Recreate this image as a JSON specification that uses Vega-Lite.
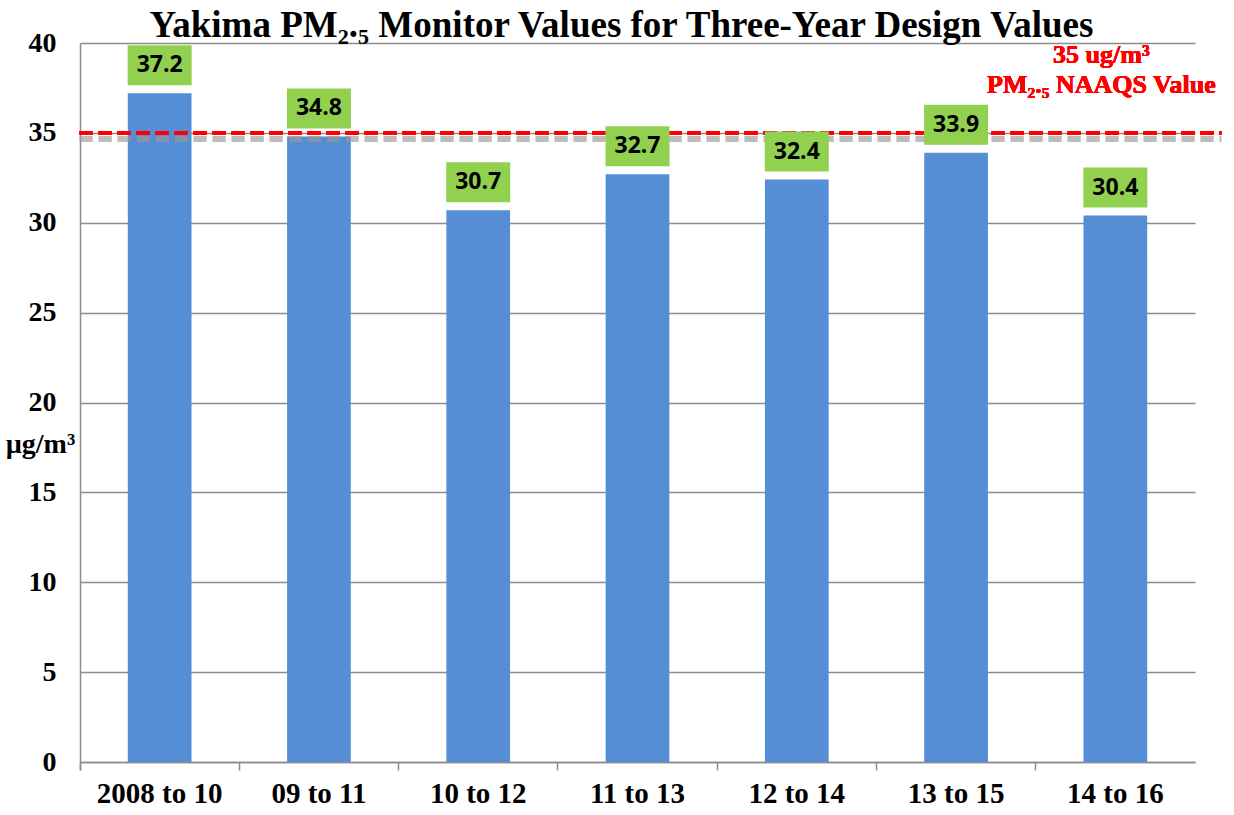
{
  "$schema": "https://vega.github.io/schema/vega-lite/v6.json",
  "width": 1115,
  "height": 719,
  "autosize": {"type": "none"},
  "padding": {"left": 80, "top": 43, "right": 39, "bottom": 53},
  "background": "white",
  "title": {
    "text": "Yakima PM₂.₅ Monitor  Values for Three-Year Design Values",
    "font": "Liberation Serif",
    "fontSize": 37,
    "fontWeight": "bold",
    "color": "black",
    "anchor": "middle",
    "dx": -16,
    "dy": 24,
    "offset": 8
  },
  "data": {
    "values": [
      {"period": "2008 to 10", "value": 37.2},
      {"period": "09 to 11", "value": 34.8},
      {"period": "10 to 12", "value": 30.7},
      {"period": "11 to 13", "value": 32.7},
      {"period": "12 to 14", "value": 32.4},
      {"period": "13 to 15", "value": 33.9},
      {"period": "14 to 16", "value": 30.4}
    ]
  },
  "config": {
    "view": {"stroke": null},
    "axis": {
      "labelFont": "Liberation Serif",
      "labelFontWeight": "bold",
      "labelColor": "black",
      "titleFont": "Liberation Serif",
      "titleFontWeight": "bold",
      "titleColor": "black",
      "domainColor": "#8c8c8c",
      "tickColor": "#8c8c8c",
      "gridColor": "#8c8c8c"
    },
    "axisX": {"tickSize": 8, "labelPadding": 9, "labelFontSize": 29, "labelAngle": 0, "domainWidth": 1.5, "tickWidth": 1.5}
  },
  "layer": [
    {
      "mark": {"type": "bar", "color": "#558ED5", "width": {"band": 0.4}},
      "encoding": {
        "x": {
          "field": "period",
          "type": "nominal",
          "sort": null,
          "scale": {"paddingInner": 0, "paddingOuter": 0},
          "axis": {"title": null, "bandPosition": 0, "tickExtra": true}
        },
        "y": {
          "field": "value",
          "type": "quantitative",
          "scale": {"domain": [0, 40], "nice": false},
          "axis": {
            "values": [0, 5, 10, 15, 20, 25, 30, 35, 40],
            "title": "µg/m³",
            "titleAngle": 0,
            "titleFontSize": 28,
            "titleAlign": "center",
            "titleBaseline": "alphabetic",
            "titleX": -40,
            "titleY": 409,
            "labelFontSize": 28,
            "ticks": false,
            "labelPadding": 24,
            "grid": true,
            "gridWidth": 1.5,
            "domainWidth": 1.5
          }
        }
      }
    },
    {
      "mark": {"type": "rule", "color": "#9a9a9a", "strokeWidth": 6, "strokeDash": [13, 6], "opacity": 0.14, "yOffset": 6, "xOffset": -80, "x2Offset": 106},
      "encoding": {
        "x": {"datum": "2008 to 10", "type": "nominal"},
        "x2": {"datum": "14 to 16"},
        "y": {"datum": 35, "type": "quantitative"}
      }
    },
    {
      "mark": {"type": "rule", "color": "#FF0000", "strokeWidth": 4, "strokeDash": [13, 6], "xOffset": -80, "x2Offset": 106},
      "encoding": {
        "x": {"datum": "2008 to 10", "type": "nominal"},
        "x2": {"datum": "14 to 16"},
        "y": {"datum": 35, "type": "quantitative"}
      }
    },
    {
      "mark": {"type": "tick", "color": "#92D050", "opacity": 1, "thickness": 40, "yOffset": -28, "size": 64},
      "encoding": {
        "x": {"field": "period", "type": "nominal", "sort": null},
        "y": {"field": "value", "type": "quantitative"}
      }
    },
    {
      "mark": {"type": "text", "font": "Open Sans", "fontWeight": "bold", "fontSize": 23, "color": "black", "baseline": "middle", "yOffset": -28},
      "encoding": {
        "x": {"field": "period", "type": "nominal", "sort": null},
        "y": {"field": "value", "type": "quantitative"},
        "text": {"field": "value", "type": "quantitative", "format": ".1f"}
      }
    },
    {
      "mark": {"type": "text", "font": "Liberation Serif", "fontWeight": "bold", "fontSize": 26, "color": "#FF0000", "align": "center", "baseline": "alphabetic", "lineHeight": 30, "xOffset": -14, "yOffset": -70},
      "encoding": {
        "x": {"datum": "14 to 16", "type": "nominal"},
        "y": {"datum": 35, "type": "quantitative"},
        "text": {"value": ["35 ug/m³", "PM₂.₅ NAAQS Value"]}
      }
    }
  ]
}
